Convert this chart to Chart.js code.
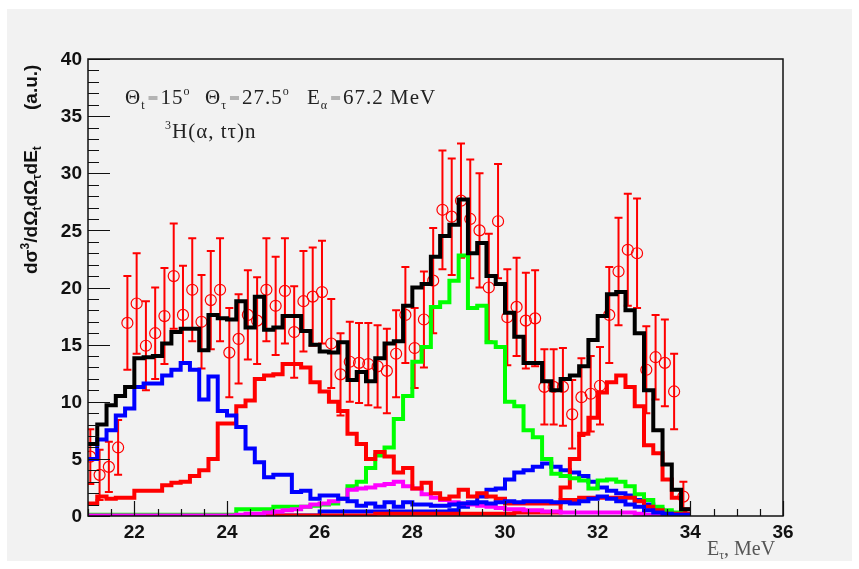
<!DOCTYPE html>
<html lang="en">
<head>
<meta charset="UTF-8" />
<title>3H(α, tτ)n energy spectrum</title>
<style>
  body { margin: 0; background: #fff; }
  canvas { display: block; }
</style>
</head>
<body>
<canvas id="spectrum" width="859" height="569"></canvas>
<script src="https://cdn.jsdelivr.net/npm/chart.js"></script>
<script>
// histogram binning, MeV
const binStart = 21.0;
const binWidth = 0.2;
// measured points sit at 21.05, 21.25, ...
const pointStart = 21.05;

// simulated components, one value per 0.2 MeV bin (21.0 ... 34.0)
const totalSum = [6.3, 8.0, 9.7, 10.5, 11.3, 13.8, 13.9, 14.0, 15.1, 16.1,
  16.4, 16.4, 14.5, 17.6, 17.3, 17.2, 18.8, 16.5, 19.2, 16.3,
  16.5, 17.5, 17.5, 16.2, 15.0, 14.4, 14.3, 15.2, 11.9, 12.6,
  11.8, 13.8, 15.1, 15.3, 18.4, 20.0, 20.3, 22.7, 24.5, 25.5,
  27.7, 23.0, 23.9, 21.0, 20.3, 17.8, 15.7, 13.4, 13.4, 11.8,
  11.0, 12.0, 12.3, 13.1, 15.4, 17.5, 19.4, 19.6, 18.0, 16.0,
  11.0, 7.5, 4.5, 2.3, 0.6];
const blueLow = [5.0, 6.7, 7.5, 8.8, 9.4, 11.3, 11.6, 11.6, 12.3, 12.8,
  13.4, 12.8, 10.2, 12.2, 9.2, 8.8, 7.8, 5.9, 4.7, 3.4,
  3.6, 3.6, 2.1, 2.2, 1.5, 1.8, 1.8, 1.5, 1.3, 0.9,
  1.1, 0.8, 1.2, 0.8, 1.2, 1.0, 1.0, 0.9, 0.9, 1.0,
  1.1, 1.1, 1.2, 1.1, 1.2, 1.3, 1.2, 1.3, 1.3, 1.3,
  1.2, 1.2, 1.1, 1.3, 1.5, 1.7, 1.5, 1.3, 1.0, 0.8,
  0.5, 0.3, 0.2, 0.1, 0.1];
const redMid = [1.1, 1.7, 1.5, 1.6, 1.6, 2.2, 2.2, 2.2, 2.7, 2.9,
  3.0, 3.5, 4.0, 5.0, 8.1, 8.1, 9.6, 10.1, 12.0, 12.3,
  12.4, 13.3, 13.3, 13.0, 11.7, 10.9, 10.0, 9.2, 7.2, 6.3,
  5.0, 5.6, 5.2, 3.8, 4.2, 2.4, 2.9, 2.0, 1.5, 1.7,
  2.3, 1.7, 2.0, 1.7, 1.5, 1.1, 1.1, 1.1, 1.1, 1.1,
  1.1, 1.4, 1.4, 1.6, 1.6, 1.6, 1.6, 1.6, 1.6, 1.3,
  0.8, 0.5, 0.2, 0.2, 0.2];
const greenPeak = [0.1, 0.1, 0.1, 0.1, 0.1, 0.1, 0.1, 0.1, 0.1, 0.1,
  0.1, 0.1, 0.1, 0.1, 0.1, 0.1, 0.6, 0.6, 0.6, 0.6,
  0.8, 0.8, 0.8, 0.8, 0.9, 1.0, 1.1, 1.5, 2.6, 3.0,
  4.2, 5.3, 6.0, 8.5, 10.5, 13.5, 14.8, 18.3, 18.7, 20.6,
  22.8, 18.2, 18.4, 15.2, 14.8, 10.0, 9.6, 7.5, 6.9, 5.0,
  3.7, 3.5, 3.3, 3.1, 2.4, 3.1, 3.2, 3.0, 2.6, 1.9,
  1.4, 0.8, 0.5, 0.3, 0.1];
const magentaBand = [0.05, 0.05, 0.05, 0.05, 0.05, 0.05, 0.05, 0.05, 0.05, 0.05,
  0.05, 0.05, 0.05, 0.05, 0.05, 0.05, 0.1, 0.2, 0.2, 0.3,
  0.4, 0.5, 0.6, 0.8, 1.0, 1.1, 1.3, 1.5, 2.3, 2.4,
  2.5, 2.7, 2.8, 3.0, 2.6, 2.4, 1.9, 1.6, 1.4, 1.2,
  1.1, 1.0, 0.9, 0.8, 0.7, 0.6, 0.6, 0.5, 0.5, 0.4,
  0.4, 0.3, 0.3, 0.3, 0.3, 0.3, 0.3, 0.3, 0.3, 0.2,
  0.1, 0.1, 0.1, 0.1, 0.1];
const blueHigh = [0.05, 0.05, 0.05, 0.05, 0.05, 0.05, 0.05, 0.05, 0.05, 0.05,
  0.05, 0.05, 0.05, 0.05, 0.05, 0.05, 0.05, 0.05, 0.05, 0.05,
  0.05, 0.05, 0.05, 0.05, 0.05, 0.4, 0.4, 0.4, 0.4, 0.4,
  0.4, 0.4, 0.4, 0.4, 0.4, 0.4, 0.4, 0.4, 0.4, 0.5,
  0.8, 1.2, 1.7, 2.3, 2.4, 3.2, 3.8, 4.0, 4.3, 4.6,
  4.3, 4.0, 3.8, 3.5, 3.0, 2.5, 2.2, 2.0, 1.8, 1.4,
  1.0, 0.6, 0.3, 0.2, 0.1];
const redHigh = [0.05, 0.05, 0.05, 0.05, 0.05, 0.05, 0.05, 0.05, 0.05, 0.05,
  0.05, 0.05, 0.05, 0.05, 0.05, 0.05, 0.05, 0.05, 0.05, 0.05,
  0.05, 0.05, 0.05, 0.05, 0.05, 0.05, 0.05, 0.05, 0.05, 0.05,
  0.05, 0.2, 0.2, 0.2, 0.2, 0.2, 0.2, 0.2, 0.2, 0.2,
  0.2, 0.2, 0.2, 0.2, 0.2, 0.2, 0.3, 0.3, 0.3, 0.3,
  0.3, 2.5, 5.0, 7.2, 8.6, 10.8, 11.7, 12.3, 11.3, 9.6,
  6.2, 5.5, 3.2, 1.6, 0.6];

// measured cross section with statistical errors
const measured = [5.2, 3.6, 4.3, 6.0, 16.9, 18.6, 14.9, 16.0, 17.5, 21.0,
  17.6, 19.8, 17.0, 18.9, 19.8, 14.3, 15.5, 17.6, 17.1, 19.8,
  18.4, 19.7, 16.1, 18.8, 19.2, 19.6, 15.1, 12.4, 13.5, 13.4,
  13.3, 13.1, 12.7, 14.2, 17.6, 14.7, 17.2, 20.6, 26.8, 26.2,
  27.6, 26.0, 25.0, 20.0, 25.8, 17.4, 18.3, 17.1, 17.3, 11.3,
  11.3, 11.3, 8.9, 10.4, 10.7, 11.4, 17.6, 21.4, 23.3, 23.0,
  12.8, 13.9, 13.4, 10.9, 1.7];
const measuredErr = [2.4, 2.2, 2.2, 2.4, 4.1, 4.4, 3.9, 4.0, 4.2, 4.6,
  4.3, 4.5, 4.1, 4.3, 4.5, 3.9, 3.9, 3.9, 3.8, 4.5,
  4.3, 4.6, 4.0, 4.4, 4.3, 4.5, 3.9, 3.6, 3.5, 3.5,
  3.6, 3.6, 3.7, 3.8, 4.2, 3.5, 4.2, 4.6, 5.2, 5.1,
  5.0, 5.2, 5.0, 4.7, 5.0, 4.2, 4.3, 4.2, 4.2, 3.3,
  3.3, 3.4, 3.0, 3.4, 3.3, 3.4, 4.2, 4.7, 4.9, 4.8,
  3.8, 3.7, 3.8, 3.3, 1.3];

const xTicks = [22, 24, 26, 28, 30, 32, 34, 36];
const yTicks = [0, 5, 10, 15, 20, 25, 30, 35, 40];

// step histogram: one point per left bin edge plus the closing edge
function histPoints(vals) {
  const pts = vals.map((v, i) => ({ x: binStart + i * binWidth, y: v }));
  pts.push({ x: binStart + vals.length * binWidth, y: vals[vals.length - 1] });
  return pts;
}
function histSet(vals, color) {
  return {
    type: 'line',
    data: histPoints(vals),
    borderColor: color,
    borderWidth: 4,
    stepped: true,
    pointRadius: 0,
    fill: false,
    borderJoinStyle: 'miter',
    borderCapStyle: 'butt'
  };
}

const sansB = '"Liberation Sans", Arial, Helvetica, sans-serif';
const serif = '"Liberation Serif", "Times New Roman", serif';

// text runs: [text, font, dy, colour]; '=' is drawn as a gray bar
function drawParts(ctx, parts, x, y) {
  let cx = x;
  for (const p of parts) {
    if (p[0] === 'EQ') {
      ctx.save();
      ctx.fillStyle = '#b4b4b4';
      ctx.fillRect(cx + 3, y - 8, 9, 4);
      ctx.restore();
      cx += 15;
      continue;
    }
    ctx.font = p[1];
    if (p[3]) ctx.fillStyle = p[3];
    ctx.fillText(p[0], cx, y + (p[2] || 0));
    cx += ctx.measureText(p[0]).width;
  }
  return cx - x;
}

// gray pad behind everything
const padPlugin = {
  id: 'pad',
  beforeDraw(chart) {
    const ctx = chart.ctx;
    ctx.save();
    ctx.fillStyle = '#ffffff';
    ctx.fillRect(0, 0, chart.width, chart.height);
    ctx.fillStyle = '#f2f2f2';
    ctx.fillRect(7, 9, 845, 552);
    ctx.restore();
  }
};

// vertical error bars with caps, drawn under all histograms
const errorBars = {
  id: 'errorBars',
  beforeDatasetsDraw(chart) {
    const ctx = chart.ctx;
    const xs = chart.scales.x, ys = chart.scales.y;
    const a = chart.chartArea;
    ctx.save();
    ctx.beginPath();
    ctx.rect(a.left, a.top, a.right - a.left, a.bottom - a.top);
    ctx.clip();
    ctx.strokeStyle = '#ff0000';
    ctx.lineWidth = 2;
    measured.forEach((v, i) => {
      const px = xs.getPixelForValue(pointStart + i * binWidth);
      const top = ys.getPixelForValue(v + measuredErr[i]);
      const bot = ys.getPixelForValue(Math.max(0, v - measuredErr[i]));
      ctx.beginPath();
      ctx.moveTo(px, top); ctx.lineTo(px, bot);
      ctx.moveTo(px - 4, top); ctx.lineTo(px + 4, top);
      ctx.moveTo(px - 4, bot); ctx.lineTo(px + 4, bot);
      ctx.stroke();
    });
    ctx.restore();
  }
};

// frame, inward ticks, labels and annotations
const frameAxes = {
  id: 'frameAxes',
  afterDraw(chart) {
    const ctx = chart.ctx;
    const xs = chart.scales.x, ys = chart.scales.y;
    const a = chart.chartArea;
    ctx.save();
    ctx.strokeStyle = '#111';
    ctx.lineWidth = 1.5;
    ctx.strokeRect(a.left, a.top, a.right - a.left, a.bottom - a.top);

    ctx.lineWidth = 1.2;
    ctx.beginPath();
    for (let v = 0; v <= 40; v += 1) {
      const py = Math.round(ys.getPixelForValue(v)) + 0.5;
      const len = v % 5 === 0 ? 22 : 11;
      ctx.moveTo(a.left, py); ctx.lineTo(a.left + len, py);
    }
    for (let e = 21; e <= 36; e += 0.5) {
      const px = Math.round(xs.getPixelForValue(e)) + 0.5;
      const len = e % 2 === 0 ? 15 : 7;
      ctx.moveTo(px, a.bottom); ctx.lineTo(px, a.bottom - len);
    }
    ctx.stroke();

    ctx.fillStyle = '#111';
    ctx.font = 'bold 19px ' + sansB;
    ctx.textAlign = 'right';
    ctx.textBaseline = 'middle';
    yTicks.forEach(t => ctx.fillText(String(t), a.left - 6, ys.getPixelForValue(t) + 1));
    ctx.textAlign = 'center';
    ctx.textBaseline = 'top';
    xTicks.forEach(t => ctx.fillText(String(t), xs.getPixelForValue(t), a.bottom + 7));

    // y title, rotated
    ctx.textAlign = 'left';
    ctx.textBaseline = 'alphabetic';
    ctx.save();
    ctx.translate(37, 274);
    ctx.rotate(-Math.PI / 2);
    ctx.fillStyle = '#111';
    const big = 'bold 19px ' + sansB, sm = 'bold 12px ' + sansB;
    drawParts(ctx, [['dσ', big], ['3', sm, -8], ['/dΩ', big], ['t', sm, 4],
      ['dΩ', big], ['τ', sm, 4], ['dE', big], ['t', sm, 4]], 0, 0);
    drawParts(ctx, [['(a.u.)', big]], 164, 0);
    ctx.restore();

    // x title
    ctx.fillStyle = '#555';
    const xf = '20px ' + serif, xsf = '12px ' + serif;
    drawParts(ctx, [['E', xf], ['τ', xsf, 4], [', MeV', xf]], 707, 555);

    // reaction and kinematics
    ctx.fillStyle = '#222';
    ctx.letterSpacing = '1px';
    const f = '21px ' + serif, sub = '12px ' + serif;
    drawParts(ctx, [['Θ', f], ['t', sub, 5], ['EQ'], ['15', f], ['o', sub, -9]], 125, 104);
    drawParts(ctx, [['Θ', f], ['τ', sub, 5], ['EQ'], ['27.5', f], ['o', sub, -9]], 205, 104);
    drawParts(ctx, [['E', f], ['α', sub, 5], ['EQ'], ['67.2 MeV', f]], 307, 104);
    drawParts(ctx, [['3', sub, -9], ['H(α, tτ)n', f]], 165, 138);
    ctx.letterSpacing = '0px';
    ctx.restore();
  }
};

// lower index is painted last, so the sum sits on top and the flat tails underneath
new Chart(document.getElementById('spectrum'), {
  data: {
    datasets: [
      histSet(totalSum, '#000000'),
      histSet(blueLow, '#0000ff'),
      histSet(redMid, '#ff0000'),
      histSet(magentaBand, '#ff00ff'),
      histSet(greenPeak, '#00ff00'),
      histSet(redHigh, '#ff0000'),
      histSet(blueHigh, '#0000ff'),
      {
        type: 'scatter',
        data: measured.map((v, i) => ({ x: pointStart + i * binWidth, y: v })),
        pointStyle: 'circle',
        pointRadius: 5.5,
        borderColor: '#ff0000',
        backgroundColor: 'rgba(0,0,0,0)',
        pointBorderWidth: 1.2
      }
    ]
  },
  options: {
    responsive: false,
    animation: false,
    events: [],
    layout: { padding: { left: 88, right: 76, top: 59, bottom: 53 } },
    plugins: { legend: { display: false }, tooltip: { enabled: false } },
    scales: {
      x: { type: 'linear', min: 21, max: 36, display: false },
      y: { type: 'linear', min: 0, max: 40, display: false }
    }
  },
  plugins: [padPlugin, errorBars, frameAxes]
});
</script>
</body>
</html>
